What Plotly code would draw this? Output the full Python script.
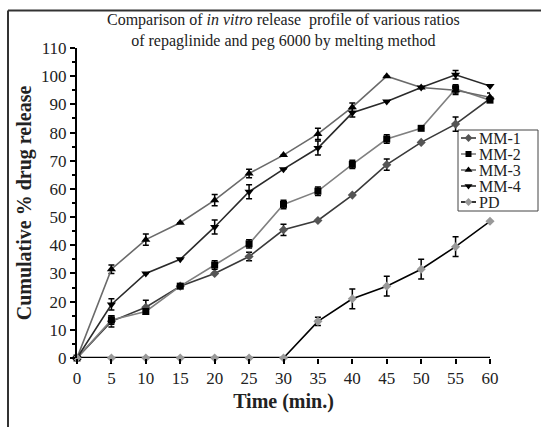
import plotly.graph_objects as go

time = [0, 5, 10, 15, 20, 25, 30, 35, 40, 45, 50, 55, 60]
mm1 = [0, 13, 18, 25.5, 30, 36, 45.5, 48.8, 57.8, 68.6, 76.5, 83, 92]
mm1_err = [0, 2, 2.5, 0, 0, 1.5, 2, 0, 0, 2, 0, 2.5, 0]
mm2 = [0, 13.5, 16.5, 25.5, 33, 40.5, 54.5, 59.2, 68.7, 77.7, 81.5, 95.5, 91.5]
mm2_err = [0, 1.5, 1, 0, 1.5, 1.5, 1.5, 1.5, 1.5, 1.5, 0, 1.5, 0]
mm3 = [0, 31.5, 42, 48, 56, 65.5, 72, 79.5, 89, 100, 96, 95, 92.5]
mm3_err = [0, 1.5, 2, 0, 2, 1.5, 0, 2, 1.5, 0, 0, 1.5, 1.5]
mm4 = [0, 19, 30, 35, 46.5, 59, 67, 74.5, 87, 91, 96, 100.5, 96.5]
mm4_err = [0, 2, 0, 0, 2.5, 2.5, 0, 2.5, 1.5, 0, 0, 1.5, 0]
pd_ = [0, 0, 0, 0, 0, 0, 0, 13, 21, 25.5, 31.5, 39.5, 48.5]
pd_err = [0, 0, 0, 0, 0, 0, 0, 1.5, 3.5, 3.5, 3.5, 3.5, 0]
names = ["MM-1", "MM-2", "MM-3", "MM-4", "PD"]

styles = [
    ("#3a3a3a", "diamond", "#555555", 7),
    ("#808080", "square", "#000000", 7),
    ("#6a6a6a", "triangle-up", "#000000", 8),
    ("#2a2a2a", "triangle-down", "#000000", 8),
    ("#000000", "diamond", "#999999", 7),
]
values = [mm1, mm2, mm3, mm4, pd_]
errors = [mm1_err, mm2_err, mm3_err, mm4_err, pd_err]

font = "Liberation Serif"
fig = go.Figure()
for name, ys, err, (lc, sym, mc, ms) in zip(names, values, errors, styles):
    fig.add_trace(go.Scatter(
        x=time, y=ys, name=name, mode="lines+markers",
        line=dict(color=lc, width=1.6),
        marker=dict(symbol=sym, color=mc, size=ms),
        error_y=dict(type="data", array=err, visible=True, color="#000000",
                     thickness=1.5, width=3),
        cliponaxis=False, showlegend=False,
    ))

# manual legend (pixel-based overlay axes)
L, R, T, B = 77, 490, 48, 358
def px(x):
    return (x - L) / (R - L)
def py(y):
    return (B - y) / (B - T)

lx0, lx1, ly0, ly1 = 458, 538, 130, 211
fig.add_shape(type="rect", xref="paper", yref="paper",
              x0=px(lx0), x1=px(lx1), y0=py(ly1), y1=py(ly0),
              line=dict(color="#444", width=1), fillcolor="white", layer="below")
for i, (name, (lc, sym, mc, ms)) in enumerate(zip(names, styles)):
    cy = 138 + i * 16
    fig.add_shape(type="line", xref="paper", yref="paper",
                  x0=px(461), x1=px(476), y0=py(cy), y1=py(cy),
                  line=dict(color=lc, width=1.6), layer="below")
    fig.add_trace(go.Scatter(
        x=[px(468.5)], y=[py(cy)], xaxis="x2", yaxis="y2", mode="markers",
        marker=dict(symbol=sym, color=mc, size=ms - 1), showlegend=False,
        cliponaxis=False, hoverinfo="skip"))
    fig.add_annotation(xref="paper", yref="paper", x=px(477), y=py(cy),
                       xanchor="left", yanchor="middle", text=name, showarrow=False,
                       font=dict(size=16, family=font, color="#222"))

fig.update_layout(
    width=541, height=427,
    margin=dict(l=L, r=541 - R, t=T, b=427 - B),
    paper_bgcolor="white", plot_bgcolor="white",
    font=dict(family=font, color="#222222", size=17),
    showlegend=False,
    xaxis=dict(range=[0, 60], tickmode="array", tickvals=time,
               ticks="outside", ticklen=5, tickwidth=1.5, tickcolor="#000",
               showline=False, showgrid=False, zeroline=False,
               tickfont=dict(size=17, family=font),
               title=dict(text="<b>Time (min.)</b>", font=dict(size=20, color="#222", family=font), standoff=6)),
    yaxis=dict(range=[0, 110], dtick=10, ticks="outside", ticklen=5,
               tickwidth=1.5, tickcolor="#000", showline=True, linewidth=2,
               linecolor="#000", showgrid=False, zeroline=False,
               minor=dict(dtick=5, ticks="outside", ticklen=3, tickcolor="#000"),
               tickfont=dict(size=17, family=font),
               title=dict(text="<b>Cumulative % drug release</b>", font=dict(size=20, color="#222", family=font), standoff=4)),
    xaxis2=dict(range=[0, 1], overlaying="x", visible=False),
    yaxis2=dict(range=[0, 1], overlaying="y", visible=False),
)

# x-axis baseline at y=0
fig.add_shape(type="line", xref="paper", yref="y", x0=0, x1=1, y0=0, y1=0,
              line=dict(color="#000", width=2.5), layer="below")

# outer border
fig.add_shape(type="line", xref="paper", yref="paper", x0=px(8), x1=px(8),
              y0=py(440), y1=py(10.5), line=dict(color="#333", width=2))
fig.add_shape(type="line", xref="paper", yref="paper", x0=px(8), x1=px(560),
              y0=py(10.5), y1=py(10.5), line=dict(color="#333", width=2))

fig.add_annotation(
    xref="paper", yref="paper", x=px(283), y=py(31), xanchor="center", yanchor="middle",
    text="Comparison of <i>in vitro</i> release  profile of various ratios<br>of repaglinide and peg 6000 by melting method",
    showarrow=False, font=dict(size=16, family=font, color="#222"), align="center")

fig.write_html("out.html", config={"displayModeBar": False},
               post_script="document.body.style.margin='0';document.body.style.padding='0';")
